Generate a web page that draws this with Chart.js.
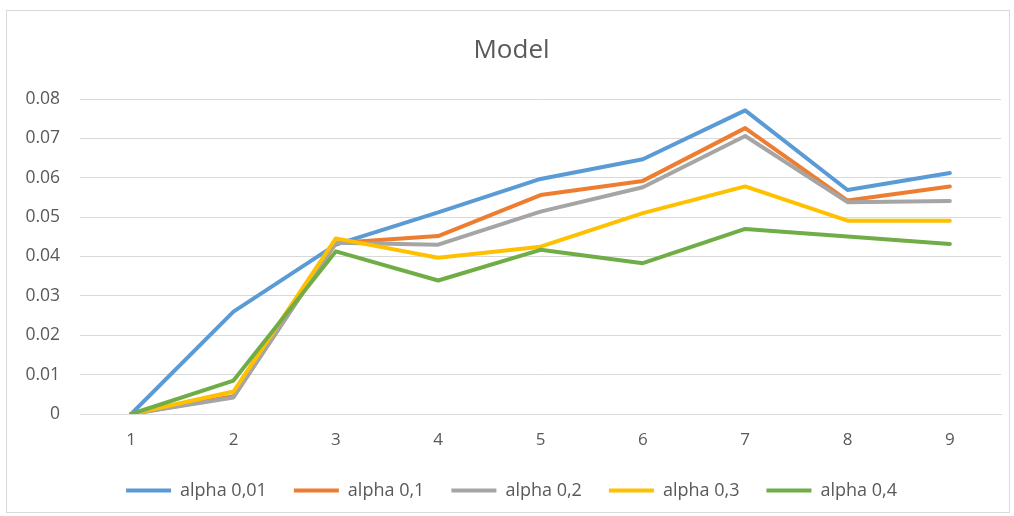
<!DOCTYPE html>
<html>
<head>
<meta charset="utf-8">
<title>Model</title>
<script src="https://cdn.jsdelivr.net/npm/chart.js@4.4.1/dist/chart.umd.min.js"></script>
<style>
    body {
        margin: 0;
        background: #ffffff;
    }
    .caixaGrafico {
        position: absolute;
        left: 6px;
        top: 10px;
        width: 1002px;
        height: 501px;
        border: 1px solid #d9d9d9;
    }
</style>
</head>
<body>
<div class="caixaGrafico">
    <canvas id="graficoModel"></canvas>
</div>
<script>
// dados do gráfico
const categorias = ['1', '2', '3', '4', '5', '6', '7', '8', '9'];
const nomesSeries = ['alpha 0,01', 'alpha 0,1', 'alpha 0,2', 'alpha 0,3', 'alpha 0,4'];
const alpha001 = [0, 0.0260, 0.0430, 0.0512, 0.0597, 0.0647, 0.0771, 0.0569, 0.0612];
const alpha01 = [0, 0.0045, 0.0434, 0.0452, 0.0556, 0.0592, 0.0726, 0.0542, 0.0578];
const alpha02 = [0, 0.0042, 0.0435, 0.0430, 0.0514, 0.0576, 0.0706, 0.0538, 0.0541];
const alpha03 = [0, 0.0057, 0.0446, 0.0397, 0.0425, 0.0510, 0.0578, 0.0491, 0.0491];
const alpha04 = [0, 0.0085, 0.0413, 0.0339, 0.0417, 0.0383, 0.0470, 0.0451, 0.0432];
const ticksY = [0, 0.01, 0.02, 0.03, 0.04, 0.05, 0.06, 0.07, 0.08];

const valoresSeries = [alpha001, alpha01, alpha02, alpha03, alpha04];
const cores = ['#5B9BD5', '#ED7D31', '#A5A5A5', '#FFC000', '#70AD47'];
const corTexto = '#595959';
const fonte = "'Open Sans', 'Noto Sans', sans-serif";

const datasets = valoresSeries.map((valores, i) => ({
    label: nomesSeries[i],
    data: valores,
    borderColor: cores[i],
    backgroundColor: cores[i],
    borderWidth: 4,
    borderCapStyle: 'round',
    borderJoinStyle: 'round',
    pointRadius: 0,
    tension: 0,
    // a última série fica por cima
    order: valoresSeries.length - i
}));

const graficoModel = document.getElementById('graficoModel');
new Chart(graficoModel, {
    type: 'line',
    data: {
        labels: categorias,
        datasets: datasets
    },
    options: {
        responsive: true,
        maintainAspectRatio: false,
        animation: false,
        layout: {
            padding: { left: 15, right: 8, top: 0, bottom: 2.5 }
        },
        plugins: {
            title: {
                display: true,
                text: 'Model',
                color: corTexto,
                font: { family: fonte, size: 26, weight: 'normal' },
                padding: { top: 24.4, bottom: 32.4 }
            },
            legend: {
                position: 'bottom',
                labels: {
                    usePointStyle: true,
                    pointStyle: 'line',
                    pointStyleWidth: 45,
                    padding: 27,
                    color: corTexto,
                    font: { family: fonte, size: 18 },
                    sort: (a, b) => a.datasetIndex - b.datasetIndex
                }
            },
            tooltip: {
                enabled: false
            }
        },
        scales: {
            x: {
                offset: true,
                grid: {
                    display: false,
                    drawTicks: false
                },
                border: {
                    display: true,
                    color: '#d9d9d9'
                },
                ticks: {
                    padding: 16,
                    color: corTexto,
                    font: { family: fonte, size: 17 }
                },
                afterFit(scale) {
                    scale.height = 40.5;
                }
            },
            y: {
                min: 0,
                max: 0.08,
                afterBuildTicks(scale) {
                    scale.ticks = ticksY.map(v => ({ value: v }));
                },
                grid: {
                    color: '#d9d9d9',
                    drawTicks: false
                },
                border: {
                    display: false
                },
                ticks: {
                    padding: 20,
                    color: corTexto,
                    font: { family: fonte, size: 17.5 },
                    callback: v => v === 0 ? '0' : v.toFixed(2)
                },
                afterFit(scale) {
                    scale.width = 58;
                }
            }
        }
    }
});
</script>
</body>
</html>
